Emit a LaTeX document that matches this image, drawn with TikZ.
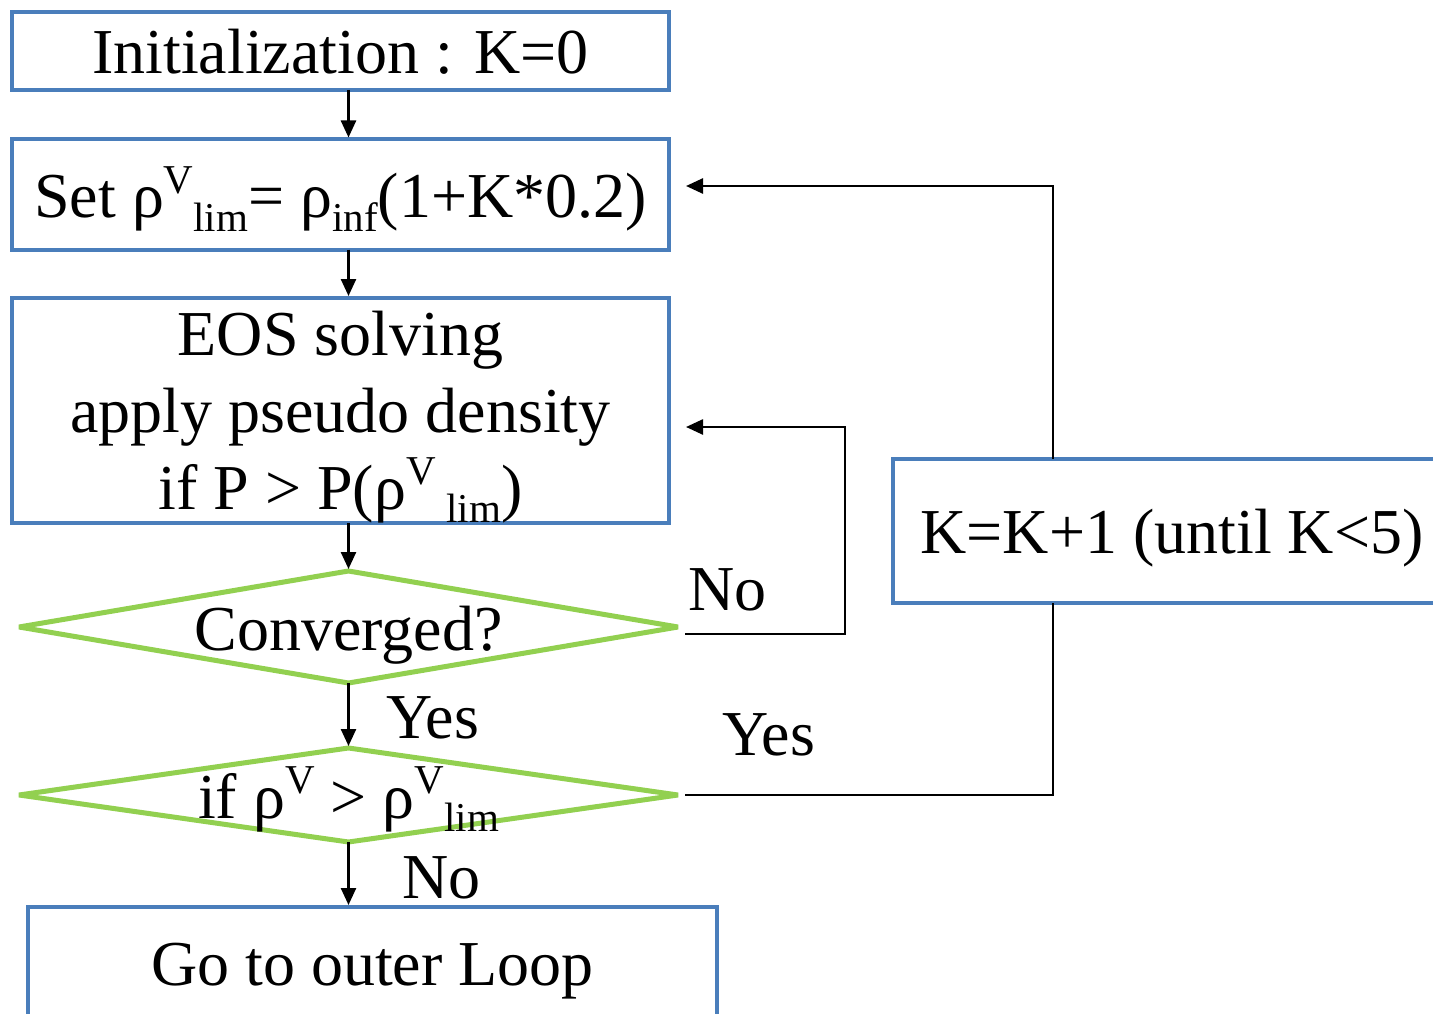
\documentclass[tikz,border=0pt]{standalone}
\usepackage{fontspec}
\setmainfont{Liberation Serif}
\usetikzlibrary{shapes.geometric,arrows.meta}
\definecolor{boxblue}{HTML}{4A7EBB}
\definecolor{dgreen}{HTML}{92D050}
\newcommand{\upV}{\raisebox{25pt}{\fontsize{41}{41}\selectfont V}}
\newcommand{\dnsub}[1]{\raisebox{-13pt}{\fontsize{41}{41}\selectfont #1}}
\newcommand{\placetext}[2]{\smash{\makebox[0pt]{\raisebox{#1}{#2}}}}
\begin{document}
\begin{tikzpicture}[x=1pt,y=-1pt,
  every node/.style={font=\fontsize{64}{77}\selectfont, inner sep=0pt, outer sep=0pt},
  blbox/.style={draw=boxblue, line width=4pt, shape=rectangle},
  dmd/.style={draw=dgreen, line width=5pt, shape=diamond, miter limit=3},
  conn/.style={line width=2.5pt, black},
  arr/.style={conn, -{Triangle[length=17pt,width=15pt]}, shorten >=2pt},
  lbl/.style={anchor=base west}]
\useasboundingbox (0,0) rectangle (1433,1014);
\clip (0,0) rectangle (1433,1014);

\node[blbox, minimum width=657pt, minimum height=78pt] (init) at (340.5,51)
  {\placetext{-23pt}{Initialization : K=0}};
\node[blbox, minimum width=657pt, minimum height=110pt] (setr) at (340.5,194.5)
  {\placetext{-23.5pt}{Set ρ\upV\dnsub{lim}= ρ\dnsub{inf}(1+K*0.2)}};
\node[blbox, minimum width=657pt, minimum height=225pt] (eos) at (340.5,410.5)
  {\placetext{55.5pt}{\begin{tabular}[t]{@{}c@{}}EOS solving\\apply pseudo density\\if P > P(ρ\upV\,\dnsub{lim})\end{tabular}}};
\node[dmd, minimum width=659pt, minimum height=112pt] (conv) at (348.5,627)
  {\placetext{-23pt}{Converged?}};
\node[dmd, minimum width=659pt, minimum height=94pt] (test) at (348.5,795)
  {\placetext{-23pt}{if ρ\upV\ > ρ\upV\dnsub{lim}}};
\node[blbox, minimum width=689pt, minimum height=140pt] (outer) at (372.5,977)
  {\placetext{-8pt}{Go to outer Loop}};
\node[blbox, minimum width=558pt, minimum height=144pt] (kinc) at (1172,531)
  {\placetext{-22pt}{K=K+1 (until K<5)}};

\node[lbl] (lno1) at (688,610) {No};
\node[lbl] (lyes1) at (386,738) {Yes};
\node[lbl] (lyes2) at (722,755) {Yes};
\node[lbl] (lno2) at (402,898) {No};

\coordinate (noTurn) at (845,427);
\coordinate (yesTurn) at (1053,795);
\coordinate (kTurn) at (1053,186);

\draw[arr] (init.south -| conv.north) -- (setr.north -| conv.north);
\draw[arr] (setr.south -| conv.north) -- (eos.north -| conv.north);
\draw[arr] (eos.south -| conv.north) -- (conv.north);
\draw[arr] (conv.south) -- (test.north);
\draw[arr] (test.south) -- (outer.north -| test.south);

\draw[arr] ([xshift=7pt,yshift=-7pt]conv.east) -| (noTurn) -- ([xshift=15pt]eos.east |- noTurn);
\draw[conn] ([xshift=7pt]test.east) -- (yesTurn) -- (yesTurn |- kinc.south);
\draw[arr] (kinc.north -| kTurn) -- (kTurn) -- ([xshift=15pt]setr.east |- kTurn);
\end{tikzpicture}
\end{document}
